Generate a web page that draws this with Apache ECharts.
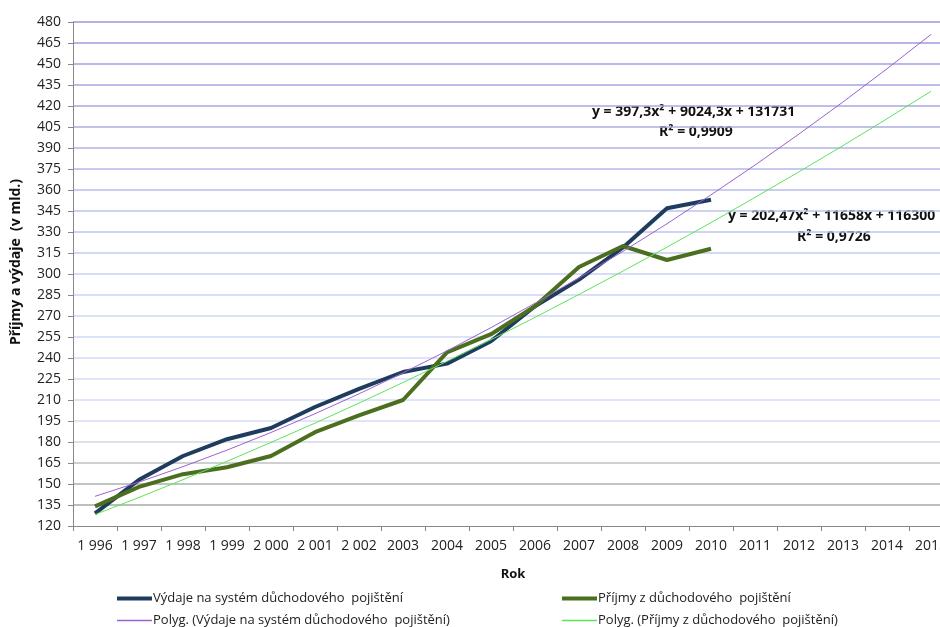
<!DOCTYPE html>
<html>
<head>
<meta charset="utf-8">
<script src="https://cdn.jsdelivr.net/npm/echarts@6/dist/echarts.min.js"></script>
<style>
  html, body { margin: 0; padding: 0; background: #fff; }
  #chart { width: 940px; height: 627px; }
</style>
</head>
<body>
<div id="chart"></div>
<script>
// roky (osa x)
var years = ['1 996', '1 997', '1 998', '1 999', '2 000', '2 001', '2 002', '2003', '2004', '2005',
    '2006', '2007', '2008', '2009', '2010', '2011', '2012', '2013', '2014', '2015'];

// skutečná data (mld.)
var vydaje = [129, 153, 170, 182, 190, 205, 218, 230, 236, 252, 277, 296, 319, 347, 353];
var prijmy = [134, 148, 157, 162, 170, 187, 199, 210, 244, 257, 277, 305, 320, 310, 318];

// polynomické trendy
var polyVydaje = [141.2, 151.4, 162.4, 174.2, 186.8, 200.2, 214.4, 229.4, 245.1, 261.7,
    279.1, 297.2, 316.2, 335.9, 356.5, 377.8, 400.0, 422.9, 446.6, 471.1];
var polyPrijmy = [128.2, 140.4, 153.1, 166.2, 179.7, 193.5, 207.8, 222.5, 237.6, 253.1,
    269.0, 285.4, 302.1, 319.2, 336.7, 354.7, 373.0, 391.7, 410.9, 430.5];

var names = [
    'Výdaje na systém důchodového  pojištění',
    'Příjmy z důchodového  pojištění',
    'Polyg. (Výdaje na systém důchodového  pojištění)',
    'Polyg. (Příjmy z důchodového  pojištění)'
];

var font = '"Open Sans", "Liberation Sans", sans-serif';

// barvy mřížky od 120 nahoru (šedá dole, modrofialová nahoře)
var gridColors = ['rgba(0,0,0,0)', '#a3aaa3', '#aab2ab', '#bcc3c0', '#d0d7e6', '#d6def6', '#d6def6',
    '#d4dcf6', '#d2daf6', '#d0d8f6', '#ced6f6', '#ccd4f6', '#c8d0f4', '#c4ccf2', '#c0c6f0',
    '#bcc2ee', '#b8bdec', '#b4b8e8', '#b0b3e6', '#acaee4', '#a8aae2', '#a4a6e0', '#a0a2de',
    '#9d9edc', '#9a9ada'];

// jedna legenda = jedna položka, ať sedí mřížka 2x2
function legendItem(name, left, top, thick) {
    return {
        left: left,
        top: top,
        icon: 'rect',
        itemWidth: 35,
        itemHeight: thick,
        itemGap: 0,
        textStyle: { fontSize: 13, color: '#222', fontFamily: font, padding: [0, 0, 0, -4] },
        data: [name]
    };
}

var myChart = echarts.init(document.getElementById('chart'));

var option = {
    animation: false,
    textStyle: { fontFamily: font },
    grid: {
        left: 73,
        top: 22,
        width: 880,
        height: 504,
        containLabel: false,
        outerBoundsMode: 'none'
    },
    legend: [
        legendItem(names[0], 112, 587, 4),
        legendItem(names[2], 112, 609, 1.5),
        legendItem(names[1], 557, 587, 4),
        legendItem(names[3], 557, 609, 1.5)
    ],
    xAxis: {
        type: 'category',
        data: years,
        boundaryGap: true,
        name: 'Rok',
        nameLocation: 'middle',
        nameGap: 42,
        nameTextStyle: { fontWeight: 'bold', fontSize: 13, color: '#111' },
        axisLine: { lineStyle: { color: '#888', width: 1 } },
        axisTick: { show: true, length: 5, lineStyle: { color: '#888' } },
        axisLabel: { interval: 0, margin: 13, fontSize: 14, color: '#222' },
        splitLine: { show: false }
    },
    yAxis: {
        type: 'value',
        min: 120,
        max: 480,
        interval: 15,
        name: 'Příjmy a výdaje  (v mld.)',
        nameLocation: 'middle',
        nameRotate: 90,
        nameGap: 50,
        nameTextStyle: { fontWeight: 'bold', fontSize: 14, color: '#111', padding: [0, 0, 0, 24] },
        axisLine: { show: true, lineStyle: { color: '#888', width: 1 } },
        axisTick: { show: true, length: 5, lineStyle: { color: '#888' } },
        axisLabel: { margin: 12, fontSize: 14, color: '#222' },
        splitLine: { lineStyle: { color: gridColors, width: 1.5 } }
    },
    graphic: [{
        type: 'text', left: 592, top: 105,
        style: { text: 'y = 397,3x² + 9024,3x + 131731', font: 'bold 14px ' + font, fill: '#111' }
    }, {
        type: 'text', left: 659, top: 125,
        style: { text: 'R² = 0,9909', font: 'bold 14px ' + font, fill: '#111' }
    }, {
        type: 'text', left: 728, top: 209,
        style: { text: 'y = 202,47x² + 11658x + 116300', font: 'bold 14px ' + font, fill: '#111' }
    }, {
        type: 'text', left: 797, top: 230,
        style: { text: 'R² = 0,9726', font: 'bold 14px ' + font, fill: '#111' }
    }],
    series: [{
        name: names[0],
        type: 'line',
        data: vydaje,
        symbol: 'none',
        z: 3,
        lineStyle: { color: '#1f3b5e', width: 4 },
        itemStyle: { color: '#1f3b5e' }
    }, {
        name: names[1],
        type: 'line',
        data: prijmy,
        symbol: 'none',
        z: 3,
        lineStyle: { color: '#4b6e1f', width: 4 },
        itemStyle: { color: '#4b6e1f' }
    }, {
        name: names[2],
        type: 'line',
        data: polyVydaje,
        symbol: 'none',
        z: 4,
        lineStyle: { color: '#9a62cf', width: 1 },
        itemStyle: { color: '#9a62cf' }
    }, {
        name: names[3],
        type: 'line',
        data: polyPrijmy,
        symbol: 'none',
        z: 4,
        lineStyle: { color: '#5ee35a', width: 1 },
        itemStyle: { color: '#5ee35a' }
    }]
};

myChart.setOption(option);
window.addEventListener('resize', function () {
    myChart.resize();
});
</script>
</body>
</html>
